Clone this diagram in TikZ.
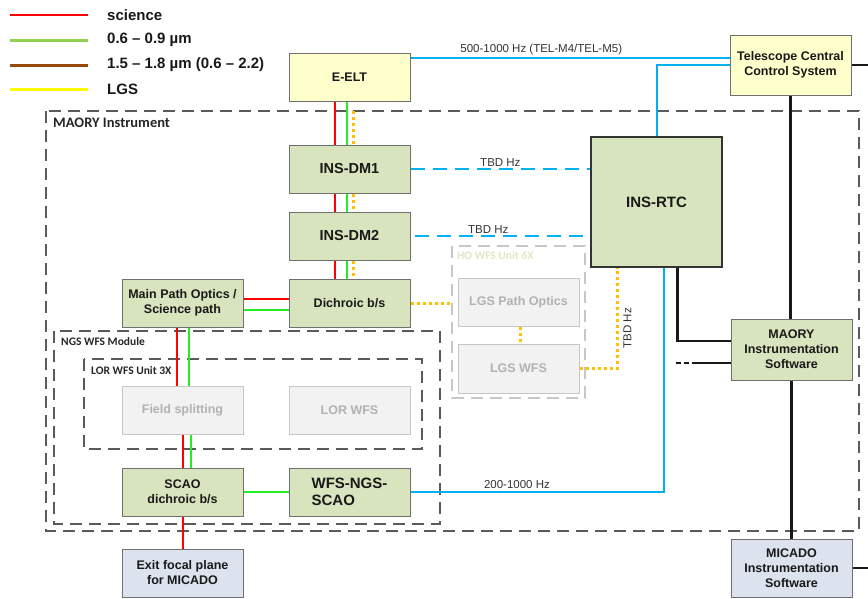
\documentclass[tikz,border=0pt]{standalone}
\usepackage{fontspec}
\setmainfont{Liberation Sans}
\newfontfamily\calibri{Carlito}
\usetikzlibrary{positioning}

\definecolor{boxgreen}{HTML}{D7E4BD}
\definecolor{boxyellow}{HTML}{FFFFCC}
\definecolor{boxblue}{HTML}{DCE3EE}
\definecolor{boxgrey}{HTML}{F2F2F2}
\definecolor{edgegrey}{HTML}{707070}
\definecolor{framegrey}{HTML}{5A5A5A}
\definecolor{holabel}{HTML}{E4E4C4}
\definecolor{scired}{HTML}{FF0000}
\definecolor{nirgreen}{HTML}{22EE22}
\definecolor{leggreen}{HTML}{92D050}
\definecolor{irbrown}{HTML}{984807}
\definecolor{lgsyellow}{HTML}{FFFF00}
\definecolor{lgsorange}{HTML}{FFC000}
\definecolor{ctrlblue}{HTML}{00B0F0}

\begin{document}
\begin{tikzpicture}[x=1pt, y=-1pt, node distance=18pt,
    box/.style={draw=edgegrey, line width=1pt, fill=boxgreen, minimum width=121pt,
        minimum height=48pt, inner sep=2pt, align=center, text=black!90,
        font=\fontsize{12.5}{15}\selectfont\bfseries},
    bigbox/.style={box, font=\fontsize{14.5}{17.5}\selectfont\bfseries},
    greybox/.style={box, draw=black!22, fill=boxgrey, text=black!30},
    frame/.style={draw=framegrey, line width=1.1pt, dash pattern=on 12pt off 7pt},
    framelabel/.style={anchor=west, inner sep=0pt, text=black!85,
        font=\calibri\fontsize{11.5}{13}\selectfont\bfseries},
    legtext/.style={anchor=west, inner sep=0pt, text=black!90,
        font=\fontsize{15}{17}\selectfont\bfseries},
    science/.style={draw=scired, line width=2.4pt},
    nir/.style={draw=nirgreen, line width=2.4pt},
    lgs/.style={draw=lgsorange, line width=3pt, dash pattern=on 3pt off 3pt},
    ctrl/.style={draw=ctrlblue, line width=2pt},
    tbd/.style={ctrl, dash pattern=on 14pt off 8pt},
    sw/.style={draw=black!90, line width=2.2pt},
    rate/.style={text=black!80, font=\fontsize{11.5}{13}\selectfont, inner sep=2pt}]

    \useasboundingbox (0,0) rectangle (868,598);

    % Legend
    \draw [science]                     (10,15) -- (88,15);
    \draw [draw=leggreen, line width=3pt]  (10,40) -- (88,40);
    \draw [draw=irbrown, line width=3pt]   (10,65) -- (88,65);
    \draw [draw=lgsyellow, line width=3pt] (10,89) -- (88,89);
    \node [legtext] (lsci)  at (107,15) {science};
    \node [legtext] (lvis)  at (107,40) {0.6 -- 0.9 µm};
    \node [legtext] (lnir)  at (107,65) {1.5 -- 1.8 µm (0.6 -- 2.2)};
    \node [legtext] (llgs)  at (107,89) {LGS};

    % Frames
    \draw [frame] (46,111) rectangle (859,531);
    \draw [frame] (54,331) rectangle (440,524);
    \draw [frame] (84,359) rectangle (422,449);
    \draw [frame, draw=black!22, line width=1.6pt] (452,246) rectangle (585,398);
    \coordinate (hol) at (452,246);
    \coordinate (mtop) at (353,111);
    \coordinate (edge) at (868,62);
    \node [framelabel, font=\calibri\fontsize{14.5}{16}\selectfont\bfseries] (maorylbl) at (53,123) {MAORY Instrument};
    \node [framelabel] (ngslbl) at (61,342) {NGS WFS Module};
    \node [framelabel] (lorlbl) at (91,370) {LOR WFS Unit 3X};
    \node [framelabel, text=holabel] (holbl) at (457,256) {HO WFS Unit 6X};

    % Nodes
    \node [box, fill=boxyellow]          (eelt)                        at (349.5,77) {E-ELT};
    \node [bigbox]                       (dm1)                         at (349.5,169) {INS-DM1};
    \node [bigbox]                       (dm2)    [below=of dm1]       {INS-DM2};
    \node [box]                          (dich)   [below=of dm2]       {Dichroic b/s};
    \node [box]                          (mpo)    [left=45pt of dich]  {Main Path Optics /\\Science path};
    \node [greybox]                      (fsplit) [below=58pt of mpo]  {Field splitting};
    \node [greybox]                      (lorwfs) [below=58pt of dich] {LOR WFS};
    \node [box]                          (scao)   [below=33pt of fsplit] {SCAO\\dichroic b/s};
    \node [bigbox, align=left, font=\fontsize{15}{17.5}\selectfont\bfseries]
                                         (wfsngs) [below=33pt of lorwfs] {WFS-NGS-\\SCAO};
    \node [box, fill=boxblue]            (exit)   [below=32pt of scao] {Exit focal plane\\for MICADO};
    \node [box, fill=boxyellow, minimum height=60pt] (tccs)            at (790.5,65) {Telescope Central\\Control System};
    \node [bigbox, font=\fontsize{15}{17}\selectfont\bfseries, minimum width=131pt,
           minimum height=130pt, draw=black!80, line width=1.6pt] (rtc) at (656.5,202) {INS-RTC};
    \node [greybox]                      (lgspo)                       at (518.5,302) {LGS Path Optics};
    \node [greybox, minimum height=49pt] (lgswfs) [below=17pt of lgspo] {LGS WFS};
    \node [box, minimum height=61pt]     (mis)                         at (791.5,349.5) {MAORY\\Instrumentation\\Software};
    \node [box, fill=boxblue, minimum height=58pt] (micado)            at (791.5,568) {MICADO\\Instrumentation\\Software};

    % Optical paths
    \foreach \a/\b in {eelt/dm1, dm1/dm2, dm2/dich} {
        \draw [science] ([xshift=-14.5pt]\a.south) -- ([xshift=-14.5pt]\b.north);
        \draw [nir]     ([xshift=-2.5pt]\a.south)  -- ([xshift=-2.5pt]\b.north);
    }
    \draw [lgs] (mtop) -- (mtop |- dm1.north);
    \draw [lgs] ([xshift=3.5pt]dm1.south) -- ([xshift=3.5pt]dm2.north);
    \draw [lgs] ([xshift=3.5pt]dm2.south) -- ([xshift=3.5pt]dich.north);

    \draw [science] ([yshift=4pt]dich.west)  -- ([yshift=4pt]mpo.east);
    \draw [nir]     ([yshift=-7pt]dich.west) -- ([yshift=-7pt]mpo.east);
    \draw [science] ([xshift=-5.5pt]mpo.south) -- ([xshift=-5.5pt]fsplit.north);
    \draw [nir]     ([xshift=6.5pt]mpo.south)  -- ([xshift=6.5pt]fsplit.north);
    \draw [science] ([xshift=0.5pt]fsplit.south) -- ([xshift=0.5pt]scao.north);
    \draw [nir]     ([xshift=8.5pt]fsplit.south) -- ([xshift=8.5pt]scao.north);
    \draw [nir]     (scao.east) -- (wfsngs.west);
    \draw [science] ([xshift=0.5pt]scao.south) -- ([xshift=0.5pt]exit.north);

    \draw [lgs] (dich.east) -- (dich.east -| hol);
    \draw [lgs] ([xshift=1.5pt]lgspo.south) -- ([xshift=1.5pt]lgswfs.north);
    \draw [lgs] (lgswfs.east) -| ([xshift=-39.5pt]rtc.south)
        node [rate, pos=0.7, anchor=north, rotate=90, yshift=-3pt] {TBD Hz};

    % Control paths
    \coordinate (e1) at ([yshift=-5pt]eelt.north east);
    \draw [ctrl] (e1) -- (e1 -| tccs.west)
        node [rate, pos=0.41, above] {500-1000 Hz (TEL-M4/TEL-M5)};
    \draw [ctrl] (tccs.west) -| (rtc.north);
    \draw [tbd]  (dm1.east) -- (dm1.east -| rtc.west) node [rate, midway, above] {TBD Hz};
    \draw [tbd]  ([xshift=4pt]dm2.east) -- (dm2.east -| rtc.west) node [rate, pos=0.42, above] {TBD Hz};
    \draw [ctrl] (wfsngs.east) -| ([xshift=7.5pt]rtc.south)
        node [rate, pos=0.21, above] {200-1000 Hz};

    % Software links
    \draw [sw] (tccs.south) -- (tccs.south |- mis.north);
    \draw [sw] (mis.south) -- (micado.north);
    \draw [sw] (tccs.east) -- (tccs.east -| edge);
    \draw [sw] (micado.east) -- (micado.east -| edge);
    \draw [sw] ([xshift=21pt]rtc.south) |- ([yshift=8.5pt]mis.west);
    \coordinate (ext)  at ([xshift=-55pt, yshift=-13.5pt]mis.west);
    \coordinate (extm) at ([xshift=-34pt, yshift=-13.5pt]mis.west);
    \draw [sw, dash pattern=on 5pt off 3pt] (ext) -- (extm);
    \draw [sw] (extm) -- ([yshift=-13.5pt]mis.west);

\end{tikzpicture}
\end{document}
